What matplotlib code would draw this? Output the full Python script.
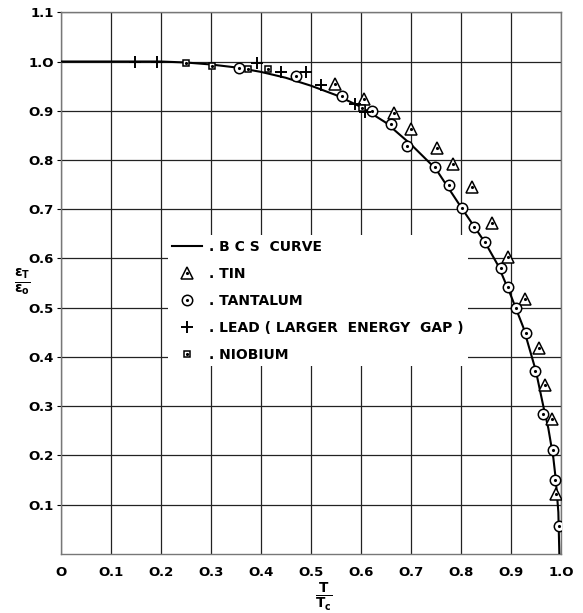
import matplotlib.pyplot as plt
import numpy as np

# BCS curve
bcs_t = [0.0, 0.1, 0.2, 0.25, 0.3, 0.35, 0.4, 0.45, 0.5, 0.55, 0.6, 0.65, 0.7,
         0.75, 0.8, 0.85, 0.875, 0.9, 0.925, 0.95, 0.965, 0.975, 0.985, 0.99,
         0.995, 0.997]
bcs_gap = [1.0, 1.0, 1.0, 0.998, 0.994, 0.988, 0.979, 0.967, 0.951, 0.932, 0.908,
           0.876, 0.832, 0.782, 0.705, 0.630, 0.585, 0.525, 0.460, 0.372, 0.300,
           0.255, 0.195, 0.150, 0.085, 0.0]

tin_t = [0.548, 0.606, 0.666, 0.701, 0.753, 0.784, 0.823, 0.862, 0.894, 0.929,
         0.956, 0.969, 0.982, 0.991]
tin_gap = [0.954, 0.923, 0.896, 0.862, 0.825, 0.792, 0.745, 0.672, 0.603, 0.518,
           0.418, 0.343, 0.274, 0.122]

ta_t = [0.356, 0.470, 0.563, 0.622, 0.661, 0.692, 0.748, 0.776, 0.802, 0.826,
        0.849, 0.880, 0.894, 0.911, 0.931, 0.949, 0.965, 0.984, 0.989, 0.996]
ta_gap = [0.987, 0.970, 0.929, 0.900, 0.874, 0.828, 0.785, 0.749, 0.703, 0.663,
          0.634, 0.581, 0.543, 0.499, 0.449, 0.372, 0.285, 0.211, 0.150, 0.057]

pb_t = [0.148, 0.192, 0.393, 0.441, 0.491, 0.521, 0.588, 0.608]
pb_gap = [1.0, 0.998, 0.997, 0.978, 0.979, 0.953, 0.914, 0.897]

nb_t = [0.250, 0.302, 0.375, 0.415, 0.603]
nb_gap = [0.997, 0.990, 0.984, 0.984, 0.905]

xticks = np.round(np.arange(0, 1.01, 0.1), 1)
yticks = np.round(np.arange(0.1, 1.11, 0.1), 1)
xlabels = ['O', 'O.1', 'O.2', 'O.3', 'O.4', 'O.5', 'O.6', 'O.7', 'O.8', 'O.9', '1.O']
ylabels = ['O.1', 'O.2', 'O.3', 'O.4', 'O.5', 'O.6', 'O.7', 'O.8', 'O.9', '1.O', '1.1']

fig = plt.figure(figsize=(5.83, 6.13), dpi=100)
ax = fig.add_axes([0.104, 0.0963, 0.858, 0.8837])

ax.set_xlim(0, 1.0)
ax.set_ylim(0, 1.1)
ax.set_xticks(xticks)
ax.set_yticks(yticks)
ax.set_xticklabels(xlabels, fontsize=9.5, fontweight='bold')
ax.set_yticklabels(ylabels, fontsize=9.5, fontweight='bold')
ax.tick_params(axis='x', length=0, pad=9)
ax.tick_params(axis='y', length=3, pad=2, width=0.8)
ax.grid(True, color='#222222', lw=0.9)
for s in ax.spines.values():
    s.set_color('#777777')
    s.set_linewidth(1.0)

line, = ax.plot(bcs_t, bcs_gap, color='black', lw=1.5, zorder=3)

mk = dict(ls='none', mfc='white', mec='black', mew=1.1, zorder=4)
dot = dict(ls='none', marker='.', color='black', ms=2.5, zorder=5)

tin1, = ax.plot(tin_t, tin_gap, marker='^', ms=8.5, **mk)
tin2, = ax.plot(tin_t, tin_gap, **dot)
ta1, = ax.plot(ta_t, ta_gap, marker='o', ms=7.5, **mk)
ta2, = ax.plot(ta_t, ta_gap, **dot)
pb, = ax.plot(pb_t, pb_gap, ls='none', marker='+', ms=9, mew=1.4, color='black', zorder=4)
nb1, = ax.plot(nb_t, nb_gap, marker='s', ms=5, **mk)
nb2, = ax.plot(nb_t, nb_gap, **dot)

ax.legend([line, (tin1, tin2), (ta1, ta2), pb, (nb1, nb2)],
          ['. B C S  CURVE', '. TIN', '. TANTALUM',
           '. LEAD ( LARGER  ENERGY  GAP )', '. NIOBIUM'],
          loc='upper left', bbox_to_anchor=(0.2, 0.601), frameon=True,
          facecolor='white', edgecolor='none', framealpha=1,
          prop={'size': 10, 'weight': 'bold'}, handlelength=2.2,
          handletextpad=0.5, labelspacing=0.95, borderpad=0.3)

fig.text(0.038, 0.54, r'$\mathbf{\frac{\epsilon_T}{\epsilon_o}}$', fontsize=14,
         ha='center', va='center')
fig.text(0.555, 0.027, r'$\mathbf{\frac{T}{T_c}}$', fontsize=14,
         ha='center', va='center')

fig.savefig('out.png', dpi=100)
